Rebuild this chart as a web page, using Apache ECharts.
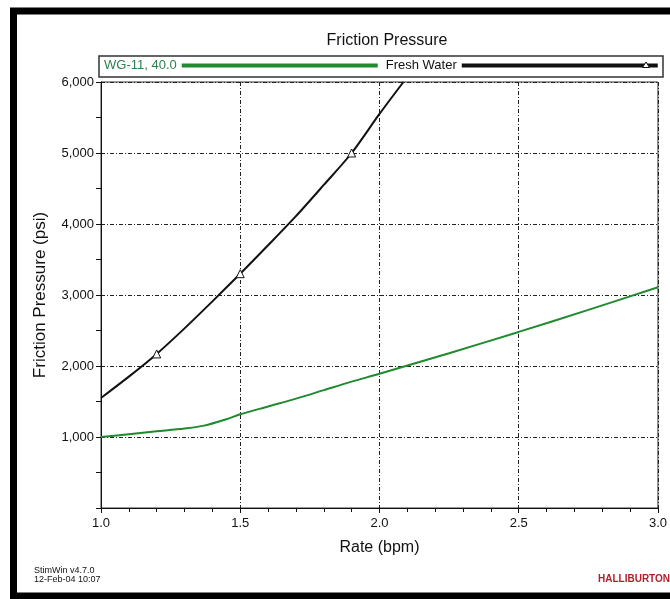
<!DOCTYPE html>
<html>
<head>
<meta charset="utf-8">
<script src="https://cdn.jsdelivr.net/npm/echarts@6/dist/echarts.min.js"></script>
<style>html,body{margin:0;padding:0;background:#fff;}#c{width:670px;height:599px;}</style>
</head>
<body>
<div id="c"></div>
<script>
// ---- data ----
var seriesNames = ['WG-11, 40.0', 'Fresh Water'];
var gelRates = [1.0, 1.1, 1.2, 1.3, 1.37, 1.45, 1.5, 1.6, 1.7, 1.8, 1.9, 2.0, 2.25, 2.5, 2.75, 3.0];
var gelPressure = [1000, 1040, 1080, 1120, 1160, 1250, 1320, 1430, 1540, 1660, 1780, 1890, 2180, 2480, 2790, 3110];
var waterRates = [1.0, 1.1, 1.2, 1.3, 1.4, 1.5, 1.6, 1.7, 1.8, 1.9, 2.0, 2.086];
var waterPressure = [1550, 1850, 2170, 2530, 2910, 3300, 3700, 4110, 4550, 5000, 5550, 6000];
var waterMarkerRates = [1.2, 1.5, 1.9];
var xTicks = [1.0, 1.5, 2.0, 2.5, 3.0];
var yTicks = [0, 1000, 2000, 3000, 4000, 5000, 6000];

var FONT = '"Liberation Sans", Arial, sans-serif';
var gelData = gelRates.map(function (x, i) { return [x, gelPressure[i]]; });
var waterData = waterRates.map(function (x, i) {
  var hasMarker = waterMarkerRates.indexOf(x) >= 0;
  return { value: [x, waterPressure[i]], symbol: hasMarker ? 'triangle' : 'none' };
});
var gridDash = [4, 2, 1, 2];

var chart = echarts.init(document.getElementById('c'), null, { renderer: 'canvas' });
chart.setOption({
  animation: false,
  backgroundColor: '#fff',
  title: {
    text: 'Friction Pressure', left: 382, top: 28, textAlign: 'center',
    textStyle: { fontFamily: FONT, fontSize: 16, fontWeight: 'normal', color: '#111' }
  },
  legend: {
    left: 104, top: 59, align: 'right', itemWidth: 196, itemHeight: 14, itemGap: 6,
    padding: 0,
    textStyle: { fontFamily: FONT, fontSize: 13, color: '#111' },
    lineStyle: { width: 4 },
    data: [
      { name: seriesNames[0], textStyle: { color: '#2e7d4f' }, itemStyle: { opacity: 0 } },
      { name: seriesNames[1], textStyle: { color: '#111' }, itemStyle: { opacity: 0 } }
    ]
  },
  grid: { left: 101, right: 8, top: 82, bottom: 91, show: true, borderColor: '#333', borderWidth: 1 },
  xAxis: {
    type: 'value', min: 1, max: 3, interval: 0.5,
    name: 'Rate (bpm)', nameLocation: 'middle', nameGap: 32,
    nameTextStyle: { fontFamily: FONT, fontSize: 16, color: '#111' },
    axisLine: { show: true, lineStyle: { color: '#111', width: 1 } },
    axisTick: { show: true, length: 5, lineStyle: { color: '#111' } },
    minorTick: { show: true, splitNumber: 5, length: 4, lineStyle: { color: '#111' } },
    axisLabel: { fontFamily: FONT, fontSize: 13, color: '#111', margin: 9,
      formatter: function (v) { return xTicks.indexOf(v) >= 0 ? v.toFixed(1) : ''; } },
    splitLine: { show: true, lineStyle: { color: '#222', width: 1, type: gridDash } }
  },
  yAxis: {
    type: 'value', min: 0, max: 6000, interval: 1000,
    name: 'Friction Pressure (psi)', nameLocation: 'middle', nameGap: 52,
    nameTextStyle: { fontFamily: FONT, fontSize: 17, color: '#111' },
    axisLine: { show: true, lineStyle: { color: '#111', width: 1 } },
    axisTick: { show: true, length: 5, lineStyle: { color: '#111' } },
    minorTick: { show: true, splitNumber: 2, length: 5, lineStyle: { color: '#111' } },
    axisLabel: { fontFamily: FONT, fontSize: 13, color: '#111', margin: 7,
      formatter: function (v) { return v === 0 ? '' : v.toLocaleString('en-US'); } },
    splitLine: { show: true, lineStyle: { color: '#222', width: 1, type: gridDash } }
  },
  series: [
    {
      name: seriesNames[0], type: 'line', data: gelData, smooth: 0.3,
      symbol: 'none', color: '#1f8a2e',
      lineStyle: { color: '#1f8a2e', width: 2 }
    },
    {
      name: seriesNames[1], type: 'line', data: waterData, smooth: 0.3,
      symbol: 'triangle', symbolSize: 8, showSymbol: true, showAllSymbol: true,
      color: '#111',
      lineStyle: { color: '#111', width: 2 },
      itemStyle: { color: '#fff', borderColor: '#111', borderWidth: 1 }
    }
  ],
  graphic: [
    { type: 'rect', shape: { x: 99, y: 56, width: 564, height: 21 },
      style: { fill: 'none', stroke: '#333', lineWidth: 1.5 }, z: 100 },
    { type: 'polygon', shape: { points: [[646, 62], [642.5, 67.5], [649.5, 67.5]] },
      style: { fill: '#fff', stroke: '#111', lineWidth: 1 }, z: 101 },
    { type: 'polyline', shape: { points: [[680, 11], [13.5, 11], [13.5, 596], [680, 596]] },
      style: { fill: 'none', stroke: '#000', lineWidth: 7 }, z: 100 },
    { type: 'text', left: 34, top: 566,
      style: { text: 'StimWin v4.7.0\n12-Feb-04 10:07', fontFamily: FONT, fontSize: 9,
        lineHeight: 9, fill: '#111', align: 'left' } },
    { type: 'text', left: 598, top: 574,
      style: { text: 'HALLIBURTON', fontFamily: FONT, fontSize: 10, fontWeight: 'bold', fill: '#b3202c' } }
  ]
});
</script>
</body>
</html>
